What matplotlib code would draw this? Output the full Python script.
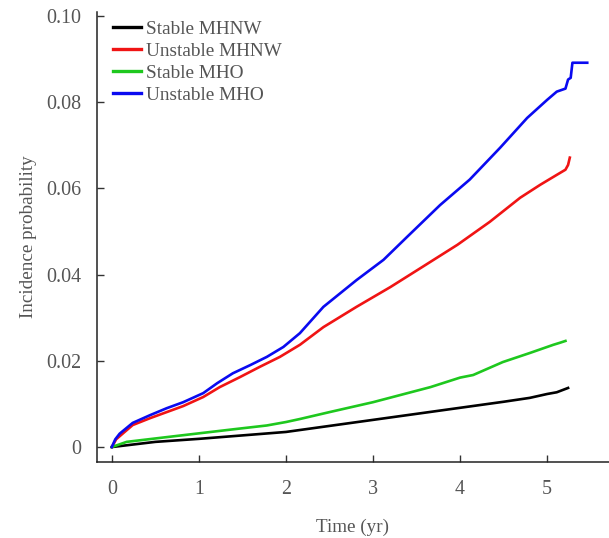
"""Cumulative incidence by metabolic-health / weight stability group."""

import matplotlib
matplotlib.use("Agg")
import matplotlib.pyplot as plt

plt.rcParams["font.family"] = ["Liberation Serif", "DejaVu Serif"]

# Values (time in years, incidence probability)
t_stable_mhnw = [0, 0.5, 1.0, 1.5, 2.0, 2.5, 3.0, 3.5, 4.0, 4.5, 4.8, 5.0, 5.11, 5.24]
y_stable_mhnw = [0, 0.0012, 0.0019, 0.0027, 0.0035, 0.0049, 0.0063, 0.0077, 0.0091,
                 0.0105, 0.0114, 0.0123, 0.0127, 0.0137]

t_unstable_mhnw = [0, 0.05, 0.13, 0.24, 0.44, 0.63, 0.82, 1.05, 1.24, 1.47, 1.70, 1.93,
                   2.16, 2.43, 2.81, 3.2, 3.57, 3.97, 4.34, 4.69, 4.92, 5.11, 5.21,
                   5.24, 5.26]
y_unstable_mhnw = [0, 0.0018, 0.0032, 0.0051, 0.0067, 0.0081, 0.0095, 0.0116, 0.0139,
                   0.0162, 0.0186, 0.0209, 0.0237, 0.0278, 0.0325, 0.0371, 0.0418,
                   0.0469, 0.0522, 0.0578, 0.0608, 0.0631, 0.0643, 0.0654, 0.0671]

t_stable_mho = [0, 0.17, 0.63, 1.01, 1.39, 1.78, 2.0, 2.16, 2.5, 3.0, 3.66, 4.0, 4.15,
                4.49, 4.8, 5.07, 5.15, 5.21]
y_stable_mho = [0, 0.0012, 0.0023, 0.0032, 0.0041, 0.0050, 0.0058, 0.0065, 0.0081,
                0.0104, 0.0139, 0.0161, 0.0167, 0.0197, 0.0218, 0.0237, 0.0242, 0.0246]

t_unstable_mho = [0, 0.04, 0.09, 0.24, 0.44, 0.63, 0.82, 1.05, 1.21, 1.39, 1.59, 1.78,
                  1.97, 2.16, 2.43, 2.81, 3.12, 3.39, 3.77, 4.11, 4.46, 4.77, 5.0,
                  5.11, 5.21, 5.24, 5.27, 5.29, 5.46]
y_unstable_mho = [0, 0.0018, 0.0031, 0.0056, 0.0074, 0.0090, 0.0104, 0.0125, 0.0148,
                  0.0171, 0.0190, 0.0209, 0.0232, 0.0264, 0.0325, 0.0387, 0.0434,
                  0.0487, 0.0561, 0.0620, 0.0694, 0.0763, 0.0805, 0.0824, 0.0831,
                  0.0852, 0.0856, 0.0891, 0.0891]

series = [
    ("Stable MHNW", t_stable_mhnw, y_stable_mhnw, "#000000"),
    ("Unstable MHNW", t_unstable_mhnw, y_unstable_mhnw, "#f01414"),
    ("Stable MHO", t_stable_mho, y_stable_mho, "#1ec81e"),
    ("Unstable MHO", t_unstable_mho, y_unstable_mho, "#0a0af0"),
]

x_ticks = [0, 1, 2, 3, 4, 5]
y_ticks = [0, 0.02, 0.04, 0.06, 0.08, 0.10]
y_tick_labels = ["0", "0.02", "0.04", "0.06", "0.08", "0.10"]

text_color = "#555555"

fig = plt.figure(figsize=(6.09, 5.38), dpi=100)
ax = fig.add_axes([0.159, 0.141, 0.841, 0.837])

for name, t, y, color in series:
    ax.plot(t, y, color=color, linewidth=1.9, label=name, solid_joinstyle="round")

ax.set_xlim(-0.172, 5.71)
ax.set_ylim(-0.0035, 0.1009)
ax.set_xticks(x_ticks)
ax.set_yticks(y_ticks)
ax.set_yticklabels(y_tick_labels)

ax.spines["top"].set_visible(False)
ax.spines["right"].set_visible(False)
for s in ("left", "bottom"):
    ax.spines[s].set_linewidth(1.1)
    ax.spines[s].set_color("#222222")

ax.tick_params(axis="both", direction="in", length=5, width=1.0, color="#333333",
               labelsize=14.4, labelcolor=text_color)
ax.tick_params(axis="x", pad=13)
ax.tick_params(axis="y", pad=11)

ax.set_xlabel("Time (yr)", fontsize=13.8, color=text_color, labelpad=14)
ax.set_ylabel("Incidence probability", fontsize=13.8, color=text_color, labelpad=7)

leg = ax.legend(loc="upper left", bbox_to_anchor=(0.031, 0.981), frameon=False,
                fontsize=13.9, handlelength=1.45, handletextpad=0.27,
                labelspacing=0.23, borderpad=0, borderaxespad=0)
for txt in leg.get_texts():
    txt.set_color(text_color)
for line in leg.get_lines():
    line.set_linewidth(2.4)

fig.savefig("out.png", dpi=100)
